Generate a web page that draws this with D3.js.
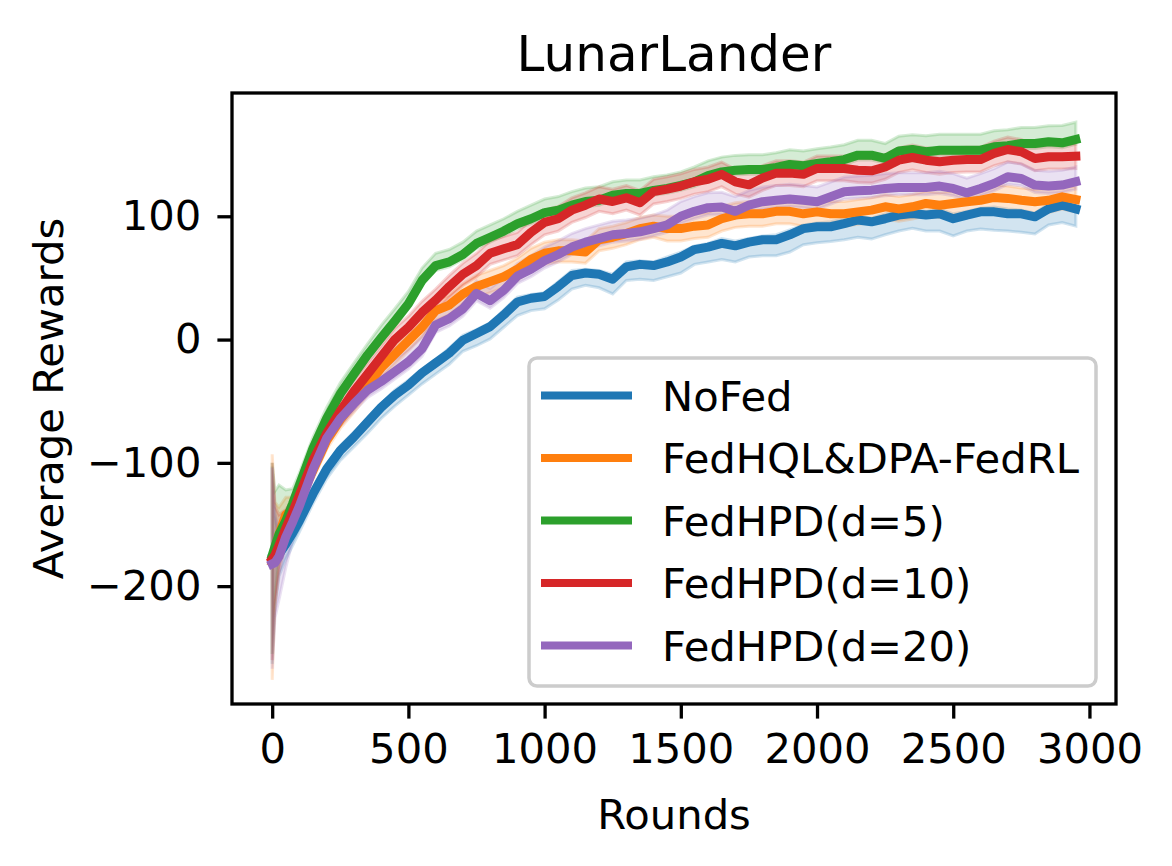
<!DOCTYPE html>
<html><head><meta charset="utf-8">
<script src="https://cdn.jsdelivr.net/npm/d3@7"></script>
<style>html,body{margin:0;padding:0;background:#fff;} svg text{font-family:"DejaVu Sans",sans-serif;fill:#000;}</style>
</head><body><svg id="c" width="1172" height="866"></svg>
<script>
const title = "LunarLander";
const xLabel = "Rounds";
const yLabel = "Average Rewards";
const seriesNames = ["NoFed","FedHQL&DPA-FedRL","FedHPD(d=5)","FedHPD(d=10)","FedHPD(d=20)"];
const colors = ["#1f77b4","#ff7f0e","#2ca02c","#d62728","#9467bd"];
const xTicks = [0,500,1000,1500,2000,2500,3000];
const xTickLabels = ["0","500","1000","1500","2000","2500","3000"];
const yTicks = [-200,-100,0,100];
const yTickLabels = ["\u2212200","\u2212100","0","100"];

const rounds = [0,10,25,50,75,100,150,200,250,300,350,400,450,500,550,600,650,700,750,800,850,900,950,1000,1050,1100,1150,1200,1250,1300,1350,1400,1450,1500,1550,1600,1650,1700,1750,1800,1850,1900,1950,2000,2050,2100,2150,2200,2250,2300,2350,2400,2450,2500,2550,2600,2650,2700,2750,2800,2850,2900,2950];

const noFed = [-178,-178,-174,-166,-157,-147,-125,-105,-90,-79,-67,-55,-45,-37,-27,-19,-11,-0.5,5,10.5,20,30.5,33.5,35,43,52,54,53,49,59,61,60,63,67,73,75,78,76,79,81,81,85,90,91.5,91.5,94,97,95.5,98,101,102.3,101,102,98,101,103.6,103.6,102,102,99.6,106,109,106];
const fedHQL = [-180,-172,-158,-142,-138,-130,-106,-82,-65,-51,-37,-23,-12,-1,10,23.5,28,37,43,47,51,57,65,70,72,72,71,81,83,86,90,92,90,90,92,93,98,101,102,102,104,104,102,103.6,102,102,103.6,105,107.7,106,107.7,110.4,109,110.4,111.8,113,115.3,114.5,113,111.8,113,115.8,113.6];
const fedHPD5 = [-175,-168,-158,-147,-133,-118,-88,-64,-44,-28,-12.5,1.5,15,29,48,60,63,69,78,83,88,94,98,103,105,109,112,113,117,118.5,118.5,121,122.6,125,128,133,136,137.4,138,138,139.6,142,141,142.8,144.2,146,149.6,149.6,147,153,154.2,152.3,153.6,153.6,153.6,153.6,156.4,157.2,159,159,160.4,159.6,162.3];
const fedHPD10 = [-178,-175,-167,-153,-140,-126,-98,-76,-58,-42,-28,-14,0,10,22,32,43,53,60,70,73.6,77,87,95,98,105,109,114,112,115,111,120,122,124.5,128,130,134,128,125.5,131,135,135,134,138.8,138.8,138.8,137.4,136.9,140,145.5,147.7,145.5,144.2,145.5,146,146,151,154.2,152.3,146.9,148.3,148.3,148.8];
const fedHPD20 = [-182,-181,-176,-160,-148,-135,-105,-80,-64,-52,-41,-34,-26,-18,-7.5,11.8,17,25,37.5,31.5,40,51.5,57,64,69,75,79,82,85,86,87.4,90,93,100,104,107,107.5,104,109,111.8,113,114,113,111.8,115.8,119.9,120.7,121.2,122.6,123.4,123.4,123.4,124.5,122.6,119,122.6,126.6,132,130.7,125.3,124.5,125.3,128];

// band spread below / above each mean
const noFedLo = [85,40,18,12,10,9, 8,8,8,8,9,9,9,8,9,9, 9,9,10,10,10,11,10,10,11,11, 10,11,12,11,12,12,12,13,12,12, 13,13,12,13,13,14,13,13,12,13, 14,14,13,13,12,13,14,14,13,14, 15,14,15,14,13,14,14];
const noFedHi = [75,35,12,6,4,3, 3,3,4,4,3,3,4,4,3,3, 4,4,3,3,4,4,3,3,4,4, 3,3,4,4,3,3,4,4,3,3, 4,4,3,3,4,4,3,3,4,4, 3,3,4,4,3,3,4,4,3,3, 4,4,3,3,4,4,3];
const fedHQLLo = [96,45,25,15,10,8, 7,7,7,8,8,8,8,8,8,8, 8,8,9,9,9,9,9,9,9,9, 9,9,9,9,9,9,10,10,10,10, 10,10,10,10,10,10,10,10,10,10, 10,10,10,10,10,10,10,10,10,10, 10,10,10,10,10,10,10];
const fedHQLHi = [87,40,22,14,10,8, 7,7,7,8,8,8,8,8,8,8, 8,8,9,9,9,9,9,9,9,9, 9,9,9,9,9,9,10,10,10,10, 10,10,10,10,10,10,10,10,10,10, 10,10,10,10,10,10,10,10,10,10, 10,10,10,10,10,10,10];
const fedHPD5Lo = [80,40,20,8,5,4, 4,4,4,4,4,4,4,4,4,4, 4,4,4,4,4,4,4,4,4,4, 4,4,4,4,4,4,4,4,4,4, 4,4,4,4,4,4,4,4,4,4, 4,4,4,4,4,4,4,4,4,4, 4,4,4,4,4,4,4];
const fedHPD5Hi = [75,45,40,25,12,10, 9,9,9,9,9,10,10,10,10,10, 10,10,10,10,10,10,11,11,11,11, 11,11,11,11,11,11,11,11,12,12, 12,12,12,12,12,12,12,12,12,12, 12,12,12,12,12,13,13,13,13,13, 13,13,13,13,13,14,14];
const fedHPD10Lo = [82,40,22,12,9,8, 8,8,8,8,8,8,8,9,9,9, 9,9,9,9,9,9,10,10,10,10, 10,10,10,10,10,10,10,10,10,10, 10,10,10,10,10,10,10,10,10,10, 10,10,10,10,10,10,10,10,10,10, 10,10,10,10,10,10,10];
const fedHPD10Hi = [78,40,25,15,10,9, 9,9,9,9,9,9,9,9,9,9, 9,9,10,10,10,10,10,10,10,10, 10,10,10,10,10,10,10,10,10,10, 10,10,10,10,10,10,10,10,10,10, 10,10,10,10,10,10,10,10,10,10, 10,10,10,10,10,10,10];
const fedHPD20Lo = [85,45,35,25,15,8, 6,6,6,6,6,6,6,6,6,6, 6,6,6,6,6,6,6,6,6,6, 6,6,6,6,6,6,6,6,6,6, 6,6,6,6,6,6,6,6,6,6, 6,6,6,6,6,6,6,6,6,6, 6,6,6,6,6,6,6];
const fedHPD20Hi = [78,40,20,12,10,9, 9,9,9,10,10,10,10,10,10,10, 10,10,10,10,10,10,11,11,11,11, 11,11,11,11,11,11,12,12,12,12, 12,12,12,12,12,12,12,12,12,12, 12,12,12,12,12,12,12,12,12,12, 12,12,12,12,12,12,12];

const seriesValues = [noFed, fedHQL, fedHPD5, fedHPD10, fedHPD20];
const seriesLo = [noFedLo, fedHQLLo, fedHPD5Lo, fedHPD10Lo, fedHPD20Lo];
const seriesHi = [noFedHi, fedHQLHi, fedHPD5Hi, fedHPD10Hi, fedHPD20Hi];

const L = 232, R = 1116, T = 93, B = 704;
const x = d3.scaleLinear().domain([-147.5, 3097.5]).range([L, R]);
const y = d3.scaleLinear().domain([-295.6, 200]).range([B, T]);
const svg = d3.select('#c');
svg.append('rect').attr('width',1172).attr('height',866).attr('fill','#fff');
svg.append('defs').append('clipPath').attr('id','clip')
  .append('rect').attr('x',L).attr('y',T).attr('width',R-L).attr('height',B-T);

const series = seriesNames.map((n,k)=>({name:n,color:colors[k],values:seriesValues[k],lo:seriesLo[k],hi:seriesHi[k]}));
const plot = svg.append('g').attr('clip-path','url(#clip)');
series.forEach(s=>{
  const area = d3.area()
    .x((d,i)=>x(rounds[i]))
    .y0((d,i)=>y(s.values[i]-s.lo[i]))
    .y1((d,i)=>y(s.values[i]+s.hi[i]));
  plot.append('path').datum(rounds).attr('d',area)
    .attr('fill',s.color).attr('fill-opacity',0.2)
    .attr('stroke',s.color).attr('stroke-opacity',0.2).attr('stroke-width',3);
});
series.forEach(s=>{
  const line = d3.line().x((d,i)=>x(rounds[i])).y(d=>y(d));
  plot.append('path').datum(s.values).attr('d',line)
    .attr('fill','none').attr('stroke',s.color).attr('stroke-width',9)
    .attr('stroke-linejoin','round').attr('stroke-linecap','square');
});

// axes
const fs = 41.7;
const xAxis = d3.axisBottom(x).tickValues(xTicks).tickFormat((d,i)=>xTickLabels[i]).tickSize(14.6).tickPadding(14.6);
const gx = svg.append('g').attr('transform',`translate(0,${B})`).call(xAxis);
gx.select('.domain').remove();
gx.selectAll('line').attr('stroke','#000').attr('stroke-width',3.3);
gx.selectAll('text').attr('font-size',fs).attr('font-family','DejaVu Sans');

const yAxis = d3.axisLeft(y).tickValues(yTicks).tickFormat((d,i)=>yTickLabels[i]).tickSize(14.6).tickPadding(16);
const gy = svg.append('g').attr('transform',`translate(${L},0)`).call(yAxis);
gy.select('.domain').remove();
gy.selectAll('line').attr('stroke','#000').attr('stroke-width',3.3);
gy.selectAll('text').attr('font-size',fs).attr('font-family','DejaVu Sans');

svg.append('rect').attr('x',L).attr('y',T).attr('width',R-L).attr('height',B-T)
  .attr('fill','none').attr('stroke','#000').attr('stroke-width',3.3);

svg.append('text').attr('x',(L+R)/2).attr('y',71).attr('text-anchor','middle').attr('font-size',50).text(title);
svg.append('text').attr('x',(L+R)/2).attr('y',829).attr('text-anchor','middle').attr('font-size',fs).text(xLabel);
svg.append('text').attr('transform',`translate(63,${(T+B)/2}) rotate(-90)`).attr('text-anchor','middle').attr('font-size',fs).text(yLabel);

// legend
const lg = svg.append('g');
lg.append('rect').attr('x',529).attr('y',358).attr('width',567).attr('height',328).attr('rx',8)
  .attr('fill','#fff').attr('fill-opacity',0.8).attr('stroke','#cccccc').attr('stroke-width',3.5);
series.forEach((s,k)=>{
  const cy = 395.5 + k*62.5;
  lg.append('line').attr('x1',545).attr('x2',628).attr('y1',cy).attr('y2',cy)
    .attr('stroke',s.color).attr('stroke-width',8).attr('stroke-linecap','square');
  lg.append('text').attr('x',662).attr('y',cy+15).attr('font-size',fs).text(s.name);
});
</script>
</body></html>
